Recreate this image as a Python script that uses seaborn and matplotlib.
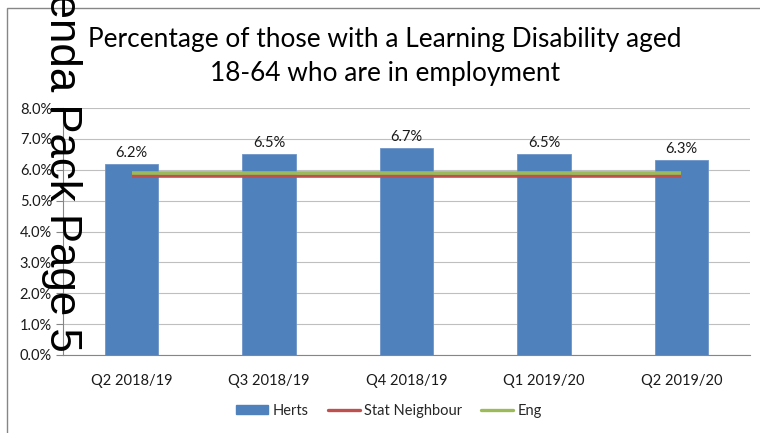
import matplotlib
matplotlib.use("Agg")
import matplotlib.pyplot as plt
import seaborn as sns
import numpy as np
import pandas as pd
from matplotlib.patches import Patch, Rectangle
from matplotlib.lines import Line2D

categories = ["Q2 2018/19", "Q3 2018/19", "Q4 2018/19", "Q1 2019/20", "Q2 2019/20"]
herts = [6.2, 6.5, 6.7, 6.5, 6.3]
stat_neighbour = [5.8, 5.8, 5.8, 5.8, 5.8]
eng = [5.9, 5.9, 5.9, 5.9, 5.9]
y_ticks = [0, 1, 2, 3, 4, 5, 6, 7, 8]

sns.set_theme(style="white")
plt.rcParams["font.family"] = ["Lato", "DejaVu Sans"]

W, H = 760, 433
fig = plt.figure(figsize=(W / 100, H / 100), dpi=100)
ax = fig.add_axes([63 / W, 1 - 355 / H, (750 - 63) / W, (355 - 108) / H])

df = pd.DataFrame({"cat": categories, "val": herts})
sns.barplot(data=df, x="cat", y="val", color="#4F81BD", saturation=1, width=0.39,
            ax=ax, zorder=2)
for p in ax.patches:
    p.set_edgecolor("#6F95C8")
    p.set_linewidth(0.6)

xs = np.arange(len(categories))
ax.plot(xs, stat_neighbour, color="#C0504D", lw=2.6, zorder=3, solid_capstyle="butt")
ax.plot(xs, eng, color="#9BBB59", lw=2.6, zorder=3, solid_capstyle="butt")

for x, v in zip(xs, herts):
    ax.text(x, v + 0.13, f"{v:.1f}%", ha="center", va="bottom", fontsize=10.5, color="#1a1a1a")

ax.set_ylim(0, 8)
ax.set_yticks(y_ticks)
ax.set_yticklabels([f"{t:.1f}%" for t in y_ticks], fontsize=10.5, color="#1a1a1a")
ax.set_xlim(-0.5, len(categories) - 0.5)
ax.set_xticks(xs)
ax.set_xticklabels(categories, fontsize=10.5, color="#1a1a1a")
ax.set_xticks(np.arange(-0.5, len(categories)), minor=True)
ax.tick_params(axis="x", which="major", length=0, pad=14)
ax.tick_params(axis="x", which="minor", length=5, color="#868686", width=0.8, direction="out")
ax.tick_params(axis="y", length=5, color="#868686", width=0.8, direction="out", pad=3, left=True)
ax.set_xlabel("")
ax.set_ylabel("")
ax.grid(axis="y", color="#BFBFBF", lw=0.8, zorder=0)
ax.set_axisbelow(True)
for s in ["top", "right"]:
    ax.spines[s].set_visible(False)
for s in ["left", "bottom"]:
    ax.spines[s].set_color("#868686")
    ax.spines[s].set_linewidth(0.8)

fig.text(385 / W, 1 - 57 / H, "Percentage of those with a Learning Disability aged\n18-64 who are in employment",
         ha="center", va="center", fontsize=18.9, color="#000000", linespacing=1.45)

handles = [Patch(facecolor="#4F81BD", edgecolor="#4F81BD"),
           Line2D([0], [0], color="#C0504D", lw=2.4),
           Line2D([0], [0], color="#9BBB59", lw=2.4)]
fig.legend(handles, ["Herts", "Stat Neighbour", "Eng"], loc="center",
           bbox_to_anchor=(389 / W, 1 - 411 / H), ncol=3, frameon=False, fontsize=10.5,
           handlelength=2.2, handleheight=0.6, columnspacing=1.3, handletextpad=0.3)

fig.add_artist(Rectangle((7 / W, -0.1), 1.2, 1.1 - 8 / H, transform=fig.transFigure,
                         fill=False, edgecolor="#868686", lw=1))

fig.text(61 / W, 1 - 352 / H, "Agenda Pack Page 5", rotation=270, ha="center", va="bottom",
         fontsize=31.5, family=["Liberation Sans", "DejaVu Sans"], color="#000000")

fig.savefig("out.png", dpi=100)
